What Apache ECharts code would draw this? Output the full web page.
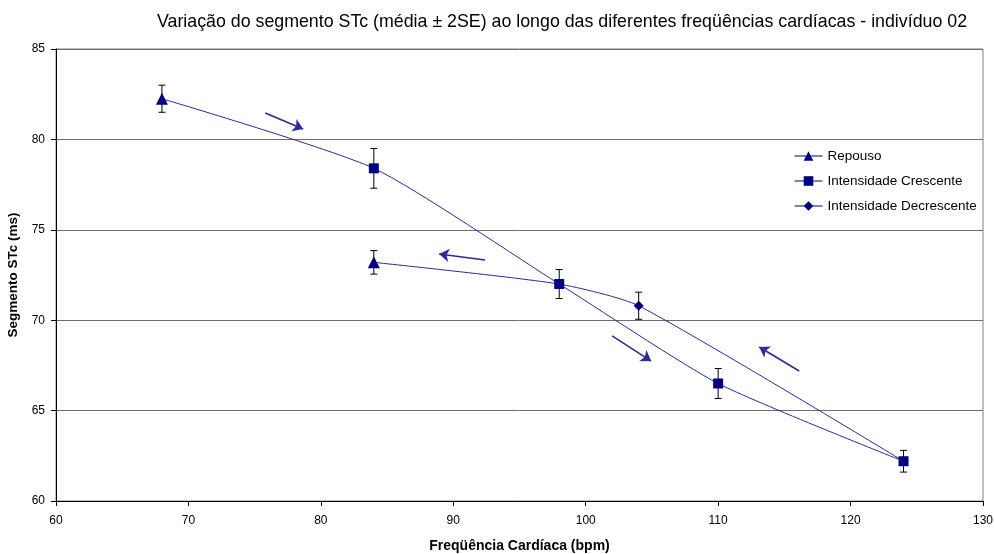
<!DOCTYPE html>
<html>
<head>
<meta charset="utf-8">
<script src="https://cdn.jsdelivr.net/npm/echarts@6/dist/echarts.min.js"></script>
<style>html,body{margin:0;padding:0;background:#fff}#c{width:994px;height:554px}</style>
</head>
<body>
<div id="c"></div>
<script>
// ---- data ----
const titleText = 'Variação do segmento STc (média ± 2SE) ao longo das diferentes freqüências cardíacas - indivíduo 02';
const xName = 'Freqüência Cardíaca (bpm)';
const yName = 'Segmento STc (ms)';
const seriesNames = ['Repouso', 'Intensidade Crescente', 'Intensidade Decrescente'];

// Repouso (triangles)
const repousoX = [68, 84];
const repousoY = [82.25, 73.2];
const repousoErr = [0.75, 0.65];
// Intensidade Crescente (squares)
const crescX = [84, 98, 110, 124];
const crescY = [78.4, 72.0, 66.5, 62.2];
const crescErr = [1.1, 0.8, 0.83, 0.6];
// Intensidade Decrescente (diamond)
const decrescX = [104];
const decrescY = [70.8];
const decrescErr = [0.75];

// smoothed connecting path (order of the experiment)
const pathX = [68, 84, 98, 110, 124, 104, 98, 84];
const pathY = [82.25, 78.4, 72.0, 66.5, 62.2, 70.8, 72.0, 73.2];

// direction arrows [x1, y1, x2, y2]
const arrows = [
  [75.8, 81.46, 78.66, 80.58],
  [92.4, 73.33, 88.93, 73.66],
  [102.0, 69.13, 104.94, 67.74],
  [116.12, 67.19, 113.1, 68.52]
];

const xTicks = [60, 70, 80, 90, 100, 110, 120, 130];
const yTicks = [60, 65, 70, 75, 80, 85];

// ---- chart ----
const navy = '#000080';
const lineCol = '#2b2b95';
function pairs(xs, ys) { return xs.map((x, i) => [x, ys[i]]); }
function errData(xs, ys, es) { return xs.map((x, i) => [x, ys[i] - es[i], ys[i] + es[i]]); }

const allErr = [].concat(
  errData(repousoX, repousoY, repousoErr),
  errData(crescX, crescY, crescErr),
  errData(decrescX, decrescY, decrescErr)
);

const chart = echarts.init(document.getElementById('c'), null, { renderer: 'canvas' });
const font = 'Liberation Sans, Arial, sans-serif';

const markerSeries = [
  { name: seriesNames[0], data: pairs(repousoX, repousoY), symbol: 'triangle', symbolSize: 12 },
  { name: seriesNames[1], data: pairs(crescX, crescY), symbol: 'rect', symbolSize: 10 },
  { name: seriesNames[2], data: pairs(decrescX, decrescY), symbol: 'diamond', symbolSize: 10 }
].map(s => Object.assign({
  type: 'line',
  showAllSymbol: true,
  itemStyle: { color: navy },
  lineStyle: { opacity: 0, width: 0, color: navy },
  z: 5,
  silent: true
}, s));

chart.setOption({
  animation: false,
  backgroundColor: '#fff',
  title: {
    text: titleText,
    left: 557, top: 8, textAlign: 'center',
    textStyle: { fontFamily: font, fontSize: 17.8, fontWeight: 'normal', color: '#000' }
  },
  grid: { left: 56, right: 11, top: 49, bottom: 53, outerBoundsMode: 'none', containLabel: false, show: true, borderColor: '#808080', borderWidth: 1 },
  legend: {
    orient: 'vertical', left: 789, top: 144,
    itemWidth: 28, itemHeight: 12, itemGap: 11,
    data: seriesNames,
    lineStyle: { opacity: 1, width: 1, color: navy },
    textStyle: { fontFamily: font, fontSize: 13.5, color: '#000' }
  },
  xAxis: {
    type: 'value', min: xTicks[0], max: xTicks[xTicks.length - 1], interval: 10,
    name: xName, nameLocation: 'middle', nameGap: 38,
    nameTextStyle: { fontFamily: font, fontSize: 14, fontWeight: 'bold', color: '#000' },
    axisLine: { lineStyle: { color: '#000', width: 1 } },
    axisTick: { show: true, length: 5, lineStyle: { color: '#000' } },
    axisLabel: { fontFamily: font, fontSize: 12, color: '#000', margin: 14 },
    splitLine: { show: false }
  },
  yAxis: {
    type: 'value', min: yTicks[0], max: yTicks[yTicks.length - 1], interval: 5,
    name: yName, nameLocation: 'middle', nameGap: 31, nameRotate: 90,
    nameTextStyle: { fontFamily: font, fontSize: 13.5, fontWeight: 'bold', color: '#000' },
    axisLine: { show: true, lineStyle: { color: '#000', width: 1 } },
    axisTick: { show: true, length: 5, lineStyle: { color: '#000' } },
    axisLabel: { fontFamily: font, fontSize: 12, color: '#000', margin: 11 },
    splitLine: { show: true, lineStyle: { color: '#6e6e6e', width: 1 } }
  },
  series: [
    {
      type: 'line', name: 'path', data: pairs(pathX, pathY),
      smooth: 0.2, symbol: 'none', silent: true, z: 3,
      lineStyle: { color: lineCol, width: 1 },
      markLine: {
        silent: true, animation: false,
        symbol: ['none', 'arrow'], symbolSize: 10,
        label: { show: false },
        lineStyle: { color: '#2a2a98', width: 1.6, type: 'solid' },
        emphasis: { disabled: true },
        data: arrows.map(a => [{ coord: [a[0], a[1]] }, { coord: [a[2], a[3]] }])
      }
    },
    {
      type: 'custom', name: 'err', silent: true, z: 4,
      data: allErr,
      renderItem: function (params, api) {
        const x = api.value(0);
        const lo = api.coord([x, api.value(1)]);
        const hi = api.coord([x, api.value(2)]);
        const w = 3.5;
        const st = { stroke: '#000', lineWidth: 1 };
        return {
          type: 'group',
          children: [
            { type: 'line', shape: { x1: lo[0], y1: lo[1], x2: hi[0], y2: hi[1] }, style: st },
            { type: 'line', shape: { x1: lo[0] - w, y1: lo[1], x2: lo[0] + w, y2: lo[1] }, style: st },
            { type: 'line', shape: { x1: hi[0] - w, y1: hi[1], x2: hi[0] + w, y2: hi[1] }, style: st }
          ]
        };
      }
    }
  ].concat(markerSeries)
});
</script>
</body>
</html>
